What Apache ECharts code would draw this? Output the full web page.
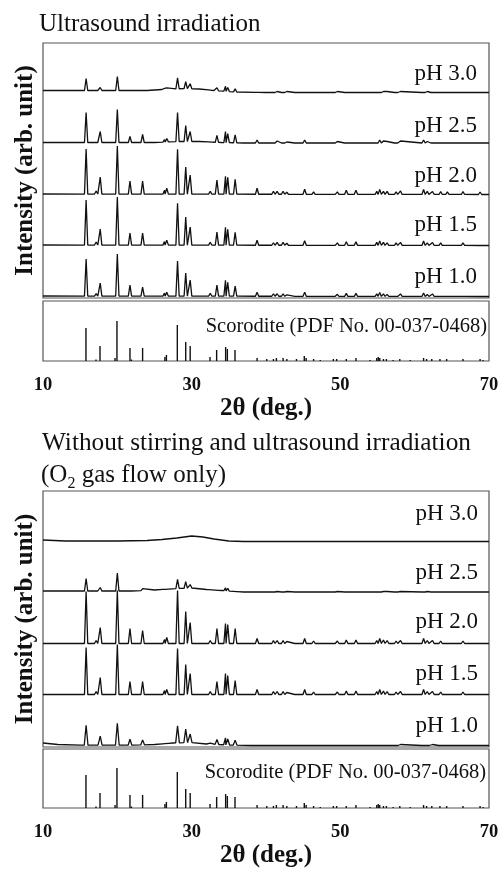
<html>
<head>
<meta charset="utf-8">
<title>XRD scorodite</title>
<script src="https://cdn.jsdelivr.net/npm/echarts@6/dist/echarts.min.js"></script>
<style>body{margin:0;background:#fff}#chart{width:501px;height:871px}</style>
</head>
<body>
<div id="chart"></div>
<script>
// 2θ positions of the peaks seen in the measured patterns
var peakPos = [15.8, 17.15, 17.7, 19.7, 20.0, 21.7, 23.4, 26.35, 26.65, 28.1, 29.2, 29.8, 32.5, 33.4, 34.55, 34.85, 35.85,
    38.8, 40.1, 41.0, 41.5, 42.3, 42.8, 44.1, 45.2, 46.4, 49.1, 49.6, 50.8, 52.1, 54.9, 55.3, 55.8, 56.3, 57.5, 58.1,
    61.2, 61.7, 62.4, 63.5, 64.4, 66.5, 68.8];

// labels, bottom to top, and the vertical offset of each trace
var phLabels = ['pH 1.0', 'pH 1.5', 'pH 2.0', 'pH 2.5', 'pH 3.0'];
var offsets = [1, 52, 103, 154.5, 205.5];

// ultrasound irradiation : peak heights (arb. unit)
var us10 = [37, 2.5, 13, 2, 42, 11, 9, 3, 4, 35, 23, 16, 3, 11, 16, 14, 10, 4, 1.5, 2.5, 2.5, 2.5, 1.5, 1.5, 4, 2, 1.5, 2, 3, 3, 2.5, 4, 2.5, 2, 2, 2.5, 3.5, 2, 2.5, 2, 1.5, 2, 1.5];
var us15 = [45, 3, 16, 2, 48, 12, 12, 3.5, 5, 42, 28, 18, 3, 13, 18, 16, 13, 5, 2, 2.5, 3, 3, 2, 2, 4.5, 2, 2, 2.5, 3.5, 3.5, 3, 4.5, 3, 2.5, 2.5, 3, 4.5, 2.5, 3, 2.5, 2, 2.5, 2];
var us20 = [45, 3, 17, 2, 48, 13, 13, 4, 6, 45, 27, 19, 3, 14, 18, 17, 15, 6, 2, 3, 3, 3, 2, 2, 5, 2.5, 2, 2.5, 4, 4, 3, 5, 3, 3, 2.5, 3.5, 5, 3, 3, 3, 2.5, 3, 2.5];
var us25 = [30, 2, 11, 1, 33, 6, 8, 2.5, 3.5, 29, 16, 10, 2, 7, 11, 9, 8, 3, 1, 1.5, 2, 2, 1, 1.5, 3, 1.5, 1, 1.5, 2, 2, 2, 3, 2, 1.5, 1.5, 2, 3, 1.5, 1.5, 2, 1.5, 1.5, 1.5];
var us30 = [12, 0.5, 3, 0.5, 14, 2, 2, 1, 1.5, 11, 7, 5, 1, 3, 5, 4, 3, 1.5, 1, 1, 1, 1, 1, 1, 1.5, 1, 1, 1, 1, 1.5, 1, 1.5, 1, 1, 1, 1, 1.5, 1, 1, 1, 1, 1, 1];
// ultrasound irradiation : background [2θ, level]
var usBg10 = [[10, 1], [70, 0.5]];
var usBg15 = [[10, 1], [70, 0.5]];
var usBg20 = [[10, 1], [70, 0.5]];
var usBg25 = [[10, 1], [25, 1], [28, 2], [31, 2], [34, 1], [37, 0.5], [70, 0.5]];
var usBg30 = [[10, 2], [24, 2], [26, 3], [29, 4], [31, 3.5], [33, 2], [36, 0.5], [40, 0], [70, 0]];

// O2 gas flow only : peak heights
var o2_10 = [20, 1, 9, 1, 22, 6, 5, 1, 1.5, 17, 13.5, 8.5, 1, 5, 7, 6, 5, 1.5, 0.5, 1, 1, 1, 0.5, 0.5, 1.5, 1, 0.5, 1, 1, 1, 1, 1.5, 1, 1, 0.5, 1, 1.5, 1, 1, 1, 0.5, 1, 0.5];
var o2_15 = [47, 3, 17, 2, 50, 13, 13, 4, 5, 46, 30, 21, 3, 13, 21, 19, 14, 5, 2, 3, 3, 3, 2, 2, 5, 2.5, 2, 2.5, 3.5, 3.5, 3, 5, 3.5, 3, 2.5, 3, 5, 3, 3, 2.5, 2, 2.5, 2];
var o2_20 = [52, 3, 16, 2, 53, 15, 13, 4, 6, 53, 32, 21, 3, 15, 20, 19, 15, 5, 2, 3, 3, 3, 2, 2, 5, 2.5, 2, 2.5, 3.5, 3.5, 3, 5, 3.5, 3, 2.5, 3, 5, 3, 3, 2.5, 2, 2.5, 2];
var o2_25 = [12.5, 0.5, 3.5, 0.5, 18, 1.5, 2, 1, 1, 9, 6.5, 3.5, 1, 1.5, 3, 2.5, 1.5, 1, 0.5, 0.5, 0.5, 0.5, 0.5, 0.5, 1, 0.5, 0.5, 0.5, 0.5, 0.5, 0.5, 1, 0.5, 0.5, 0.5, 0.5, 1, 0.5, 0.5, 0.5, 0.5, 0.5, 0.5];
var o2_30 = []; // amorphous, no peaks
// O2 gas flow only : background
var o2Bg10 = [[10, 3], [12, 1.5], [15, 0.8], [22, 0.8], [25, 1.5], [27.5, 3], [30, 3.5], [32, 2], [35, 1], [38, 0.5], [70, 0.5]];
var o2Bg15 = [[10, 0.5], [70, 0.5]];
var o2Bg20 = [[10, 0.5], [70, 0.5]];
var o2Bg25 = [[10, 1.5], [22, 1.5], [25, 2.5], [28, 4], [30, 4.5], [32, 3], [34, 2], [37, 0.5], [70, 0.5]];
var o2Bg30 = [[10, 1.5], [13, 0.5], [20, 0.5], [24, 1], [26, 2], [28, 3.5], [30, 5.5], [31.5, 4.5], [33, 2.5], [35, 0.5], [37, 0], [70, 0]];

// Scorodite reference (PDF No. 00-037-0468)
var refPos = [15.78, 17.13, 17.67, 19.69, 19.95, 21.7, 21.9, 23.4, 26.4, 26.6, 28.07, 29.2, 29.8, 32.47, 33.36, 34.57, 34.8, 35.83,
    38.8, 40.1, 41.0, 41.4, 42.3, 42.8, 44.1, 45.15, 45.4, 46.4, 47.3, 49.06, 49.5, 50.8, 52.1, 54.0, 54.9, 55.1, 55.3, 55.8, 56.2,
    57.1, 58.0, 59.4, 61.2, 61.6, 62.3, 63.4, 64.3, 66.5, 68.8, 69.2];
var refInt = [33, 1.5, 15, 3, 40, 13, 1.5, 13, 4, 6, 36, 19, 15, 4, 11, 14, 12, 11,
    3, 2, 2, 3, 3, 2, 2, 5, 3, 2, 1, 2, 2, 2, 3, 1, 3, 4, 3, 2, 2,
    1, 2, 1, 3, 2, 2, 2, 2, 2, 2, 1];

var xTicks = [10, 30, 50, 70];

var FONT = "'Liberation Serif', 'Times New Roman', serif";
var INK = '#111';

// background level between the read points
function bgAt(bg, x) {
    for (var i = 1; i < bg.length; i++) {
        if (x <= bg[i][0]) {
            var a = bg[i - 1], b = bg[i];
            return a[1] + (b[1] - a[1]) * (x - a[0]) / (b[0] - a[0]);
        }
    }
    return bg[bg.length - 1][1];
}

// polyline of one trace: background points plus a narrow peak at each position
function trace(heights, bg, off, w) {
    var pts = [];
    bg.forEach(function (p) {
        var inside = false;
        for (var i = 0; i < heights.length; i++) {
            if (Math.abs(p[0] - peakPos[i]) < w) inside = true;
        }
        if (!inside) pts.push([p[0], p[1]]);
    });
    for (var i = 0; i < heights.length; i++) {
        var c = peakPos[i];
        pts.push([c - w, bgAt(bg, c - w)], [c, bgAt(bg, c) + heights[i]], [c + w, bgAt(bg, c + w)]);
    }
    pts.sort(function (a, b) { return a[0] - b[0]; });
    return pts.map(function (p) { return [p[0], p[1] + off]; });
}

var usSets = [[us10, usBg10], [us15, usBg15], [us20, usBg20], [us25, usBg25], [us30, usBg30]];
var o2Sets = [[o2_10, o2Bg10, 0.25], [o2_15, o2Bg15], [o2_20, o2Bg20], [o2_25, o2Bg25], [o2_30, o2Bg30]];

var series = [];
usSets.forEach(function (s, i) {
    series.push({
        name: 'US ' + phLabels[i], type: 'line', xAxisIndex: 0, yAxisIndex: 0,
        data: trace(s[0], s[1], offsets[i], 0.22), showSymbol: false,
        lineStyle: { color: INK, width: 1.3 }, silent: true
    });
});
o2Sets.forEach(function (s, i) {
    series.push({
        name: 'O2 ' + phLabels[i], type: 'line', xAxisIndex: 2, yAxisIndex: 2,
        data: trace(s[0], s[1], offsets[i], s[2] || 0.22), showSymbol: false,
        lineStyle: { color: INK, width: 1.3 }, silent: true
    });
});
var refData = refPos.map(function (p, i) { return [p, refInt[i]]; });
[1, 3].forEach(function (k) {
    series.push({
        name: 'Scorodite', type: 'bar', xAxisIndex: k, yAxisIndex: k,
        data: refData, barWidth: 1.4, itemStyle: { color: INK }, silent: true
    });
});

function xAx(k, labels) {
    return {
        type: 'value', gridIndex: k, min: xTicks[0], max: xTicks[xTicks.length - 1], interval: 20,
        axisLine: { show: false }, axisTick: { show: false }, splitLine: { show: false },
        axisLabel: { show: labels, margin: 15, color: INK, fontFamily: FONT, fontWeight: 'bold', fontSize: 18.5 },
        name: labels ? '2θ (deg.)' : '', nameLocation: 'middle', nameGap: 31,
        nameTextStyle: { color: INK, fontFamily: FONT, fontWeight: 'bold', fontSize: 25 }
    };
}
function yAx(k, max, named) {
    return {
        type: 'value', gridIndex: k, min: 0, max: max,
        axisLine: { show: false }, axisTick: { show: false }, splitLine: { show: false }, axisLabel: { show: false },
        name: named ? 'Intensity (arb. unit)' : '', nameLocation: 'middle', nameGap: 5,
        nameTextStyle: { color: INK, fontFamily: FONT, fontWeight: 'bold', fontSize: 25 }
    };
}
function box(top, height) {
    return { left: 43, top: top, width: 446, height: height, show: true, borderColor: '#555', borderWidth: 1.2,
        backgroundColor: 'transparent', containLabel: false, outerBoundsMode: 'none' };
}

var graphic = [];
function txt(x, y, s, size, align) {
    graphic.push({ type: 'text', x: x, y: y, silent: true,
        style: { text: s, fill: INK, font: size + 'px ' + FONT, textAlign: align, textVerticalAlign: 'middle',
            align: align, verticalAlign: 'middle' } });
}
txt(39, 24, 'Ultrasound irradiation', 25, 'left');
txt(42, 443, 'Without stirring and ultrasound irradiation', 25.3, 'left');
graphic.push({ type: 'text', x: 41, y: 475, silent: true,
    style: { text: '{n|(O}{s|2}{n| gas flow only)}', fill: INK, textAlign: 'left', textVerticalAlign: 'middle',
        align: 'left', verticalAlign: 'middle',
        rich: {
            n: { fontFamily: FONT, fontSize: 25, lineHeight: 33, color: INK },
            s: { fontFamily: FONT, fontSize: 16, lineHeight: 11, verticalAlign: 'bottom', color: INK }
        } } });
var usLabelY = [276.7, 225, 176, 125.8, 74];
var o2LabelY = [726, 673.5, 622, 573, 514];
phLabels.forEach(function (l, i) {
    txt(477, usLabelY[i], l, 23, 'right');
    txt(478, o2LabelY[i], l, 23, 'right');
});
txt(487, 326.7, 'Scorodite (PDF No. 00-037-0468)', 20.5, 'right');
txt(486, 773, 'Scorodite (PDF No. 00-037-0468)', 20.5, 'right');

var chart = echarts.init(document.getElementById('chart'));
chart.setOption({
    animation: false,
    backgroundColor: '#fff',
    grid: [box(43, 255), box(301, 60), box(491, 256), box(749, 59)],
    xAxis: [xAx(0, false), xAx(1, true), xAx(2, false), xAx(3, true)],
    yAxis: [yAx(0, 255, true), yAx(1, 60, false), yAx(2, 256, true), yAx(3, 59, false)],
    series: series,
    graphic: graphic
});
</script>
</body>
</html>
